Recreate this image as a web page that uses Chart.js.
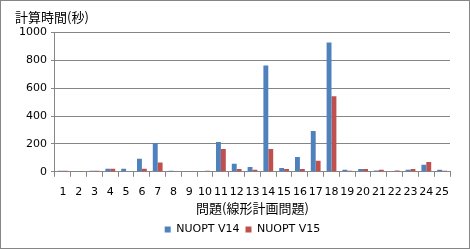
<!DOCTYPE html>
<html>
<head>
<meta charset="utf-8">
<script src="https://cdn.jsdelivr.net/npm/chart.js@4"></script>
<style>
  html, body { margin: 0; padding: 0; background: #fff; }
  #wrap { width: 470px; height: 249px; box-sizing: border-box; border: 1px solid #868686; position: relative; }
  canvas { display: block; }
</style>
</head>
<body>
<div id="wrap"><canvas id="timeChart" width="468" height="247"></canvas></div>
<script>
const problems = ["1","2","3","4","5","6","7","8","9","10","11","12","13","14","15","16","17","18","19","20","21","22","23","24","25"];
const nuoptV14 = [8, 6, 7, 22, 22, 93, 207, 7, 6, 6, 214, 58, 35, 764, 28, 107, 293, 928, 14, 21, 10, 2, 14, 50, 14];
const nuoptV15 = [8, 6, 7, 22, 0, 22, 66, 2, 2, 7, 164, 21, 14, 164, 21, 21, 79, 543, 8, 21, 14, 10, 21, 71, 8];
const yTicks = [0, 200, 400, 600, 800, 1000];

const gridColor = "#868686";
const ctx = document.getElementById("timeChart");

// legend in the reference sits a bit right of centre
const legendShift = {
    id: "legendShift",
    afterLayout(chart) {
        chart.legend.left += 10;
        chart.legend.right += 10;
    }
};

const timeChart = new Chart(ctx, {
    type: "bar",
    data: {
        labels: problems,
        datasets: [{
            label: "NUOPT V14",
            data: nuoptV14,
            backgroundColor: "#4F81BD",
            categoryPercentage: 0.62,
            barPercentage: 1,
        }, {
            label: "NUOPT V15",
            data: nuoptV15,
            backgroundColor: "#C0504D",
            categoryPercentage: 0.62,
            barPercentage: 1,
        }]
    },
    plugins: [legendShift],
    options: {
        responsive: false,
        animation: false,
        layout: { padding: { left: 14, right: 19, top: 2, bottom: 3 } },
        plugins: {
            title: {
                display: true,
                text: "計算時間(秒)",
                align: "start",
                color: "#000",
                font: { family: "'Noto Sans CJK JP'", size: 13, weight: "normal" },
                padding: { top: 6, bottom: 8 },
            },
            legend: {
                position: "bottom",
                labels: {
                    color: "#000",
                    boxWidth: 6,
                    boxHeight: 6,
                    padding: 6,
                    font: { family: "'DejaVu Sans'", size: 11 },
                }
            },
            tooltip: { enabled: false }
        },
        scales: {
            x: {
                grid: { display: true, drawOnChartArea: false, drawTicks: true, tickLength: 5, color: gridColor },
                border: { color: gridColor },
                ticks: { color: "#000", maxRotation: 0, autoSkip: false, padding: 9, font: { family: "'DejaVu Sans'", size: 11 } },
                title: {
                    display: true,
                    text: "問題(線形計画問題)",
                    color: "#000",
                    padding: { top: -6, bottom: 3 },
                    font: { family: "'Noto Sans CJK JP'", size: 13, lineHeight: 1 },
                }
            },
            y: {
                min: 0,
                max: 1000,
                afterBuildTicks: (axis) => { axis.ticks = yTicks.map(v => ({ value: v })); },
                grid: { color: gridColor, tickLength: 4 },
                border: { color: gridColor },
                ticks: {
                    color: "#000",
                    padding: 4,
                    font: { family: "'DejaVu Sans'", size: 11 },
                    callback: (v) => String(v),
                },
            }
        }
    }
});
</script>
</body>
</html>
